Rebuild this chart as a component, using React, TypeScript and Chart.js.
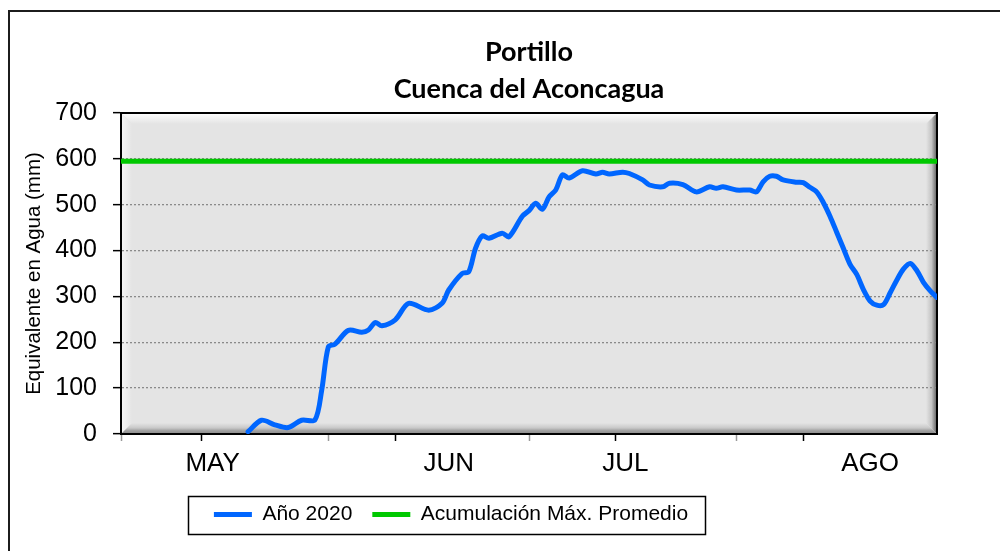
import React, { useEffect, useRef } from 'react';
import { Chart, registerables } from 'chart.js';

Chart.register(...registerables);

// ---- Text ----
const titleLines = ['Portillo', 'Cuenca del Aconcagua'];
const yAxisTitle = 'Equivalente en Agua (mm)';
const seriesLabels = ['Año 2020', 'Acumulación Máx. Promedio'];

// ---- X axis (day index, 0 = 1 May) ----
const dayMin = 0;
const dayMax = 122;
const monthLabels = ['MAY', 'JUN', 'JUL', 'AGO'];
const monthLabelDays = [13.7, 49, 75.4, 112];
const monthStartDays = [0, 31, 61, 92];
const minorTickDays = [12, 41, 74, 102];

// ---- Y axis ----
const yMin = 0;
const yMax = 700;
const yStep = 100;

// ---- Series: Año 2020 (mm) ----
const days2020 = [
  19, 21, 23, 25, 27, 29, 30, 31, 32, 34, 36, 37, 38, 39, 41, 43, 46, 48, 49, 51,
  52, 53, 54, 55, 57, 58, 60, 61, 62, 63, 64, 65, 66, 67, 69, 71, 72, 73, 75, 76,
  78, 79, 81, 82, 84, 86, 88, 89, 90, 92, 94, 95, 96, 97, 98, 99, 101, 102, 103, 104,
  105, 106, 107, 108, 109, 110, 111, 112, 113, 114, 115, 116, 117, 118, 119, 120, 121, 122,
];
const swe2020 = [
  5, 30, 20, 14, 30, 31, 95, 190, 196, 226, 222, 227, 243, 236, 249, 285, 270, 285, 314, 350,
  354, 405, 432, 427, 438, 430, 475, 487, 503, 490, 517, 532, 565, 558, 574, 567, 571, 567, 571, 568,
  554, 543, 539, 547, 544, 528, 539, 536, 539, 532, 532, 528, 550, 562, 562, 554, 549, 548, 538, 528,
  505, 475, 440, 405, 370, 348, 315, 290, 281, 282, 308, 336, 360, 372, 356, 330, 312, 298,
];

// ---- Series: Acumulación Máx. Promedio (mm) ----
const maxAvgDays = [0, 122];
const maxAvgValues = [595, 595];

const pageFrame = {
  id: 'pageFrame',
  beforeDraw(chart: any) {
    const { ctx, width, height, chartArea } = chart;
    const { left, top, right, bottom } = chartArea;
    ctx.save();
    ctx.fillStyle = '#ffffff';
    ctx.fillRect(0, 0, width, height);
    ctx.strokeStyle = '#1c1c1c';
    ctx.lineWidth = 2;
    ctx.beginPath();
    ctx.moveTo(9, height);
    ctx.lineTo(9, 11);
    ctx.lineTo(width, 11);
    ctx.stroke();

    // plot area with bevel
    ctx.fillStyle = '#e4e4e4';
    ctx.fillRect(left, top, right - left, bottom - top);
    const b = 11;
    let g = ctx.createLinearGradient(0, top, 0, top + b);
    g.addColorStop(0, '#ffffff');
    g.addColorStop(1, '#e4e4e4');
    ctx.fillStyle = g;
    ctx.beginPath();
    ctx.moveTo(left, top); ctx.lineTo(right, top); ctx.lineTo(right - b, top + b); ctx.lineTo(left + b, top + b);
    ctx.closePath(); ctx.fill();

    g = ctx.createLinearGradient(left, 0, left + b, 0);
    g.addColorStop(0, '#f6f6f6');
    g.addColorStop(1, '#e4e4e4');
    ctx.fillStyle = g;
    ctx.beginPath();
    ctx.moveTo(left, top); ctx.lineTo(left + b, top + b); ctx.lineTo(left + b, bottom - b); ctx.lineTo(left, bottom);
    ctx.closePath(); ctx.fill();

    g = ctx.createLinearGradient(right - b, 0, right, 0);
    g.addColorStop(0, '#e4e4e4');
    g.addColorStop(0.5, '#c4c4c4');
    g.addColorStop(1, '#5c5c5c');
    ctx.fillStyle = g;
    ctx.beginPath();
    ctx.moveTo(right, top); ctx.lineTo(right, bottom); ctx.lineTo(right - b, bottom - b); ctx.lineTo(right - b, top + b);
    ctx.closePath(); ctx.fill();

    g = ctx.createLinearGradient(0, bottom - b, 0, bottom);
    g.addColorStop(0, '#e4e4e4');
    g.addColorStop(0.45, '#c8c8c8');
    g.addColorStop(0.7, '#a0a0a0');
    g.addColorStop(1, '#8a8a8a');
    ctx.fillStyle = g;
    ctx.beginPath();
    ctx.moveTo(left, bottom); ctx.lineTo(right, bottom); ctx.lineTo(right - b, bottom - b); ctx.lineTo(left + b, bottom - b);
    ctx.closePath(); ctx.fill();

    ctx.strokeStyle = '#000000';
    ctx.lineWidth = 2;
    ctx.beginPath();
    ctx.moveTo(left, top); ctx.lineTo(right, top); ctx.lineTo(right, bottom);
    ctx.stroke();
    ctx.restore();
  },
};

const legendPlacement = {
  id: 'legendPlacement',
  afterLayout(chart: any) {
    const lg = chart.legend;
    if (!lg) return;
    const shift = 451 - (lg.left + lg.right) / 2;
    lg.left += shift;
    lg.right += shift;
  },
  afterDraw(chart: any) {
    const lg = chart.legend;
    if (!lg || !lg.legendHitBoxes || !lg.legendHitBoxes.length) return;
    const hb = lg.legendHitBoxes;
    const first = hb[0];
    const last = hb[hb.length - 1];
    const x1 = first.left - 26;
    const x2 = last.left + last.width + 17;
    const cy = first.top + first.height / 2;
    const { ctx } = chart;
    ctx.save();
    ctx.strokeStyle = '#000000';
    ctx.lineWidth = 1.5;
    ctx.strokeRect(Math.round(x1) + 0.5, Math.round(cy - 19) + 0.5, Math.round(x2 - x1), 38);
    ctx.restore();
  },
};

export default function App() {
  const ref = useRef<HTMLCanvasElement>(null);

  useEffect(() => {
    const canvas = ref.current;
    if (!canvas) return;
    const allXTicks = [...monthStartDays, ...minorTickDays, ...monthLabelDays].sort((a, b) => a - b);

    const chart = new Chart(canvas, {
      type: 'line',
      data: {
        datasets: [
          {
            label: seriesLabels[0],
            data: days2020.map((d, i) => ({ x: d, y: swe2020[i] })),
            borderColor: '#0066ff',
            backgroundColor: '#0066ff',
            borderWidth: 5,
            tension: 0.3,
            pointRadius: 0,
            borderCapStyle: 'round',
            borderJoinStyle: 'round',
          },
          {
            label: seriesLabels[1],
            data: maxAvgDays.map((d, i) => ({ x: d, y: maxAvgValues[i] })),
            borderColor: '#00c800',
            backgroundColor: '#00c800',
            borderWidth: 5,
            pointRadius: 0,
            borderCapStyle: 'round',
          },
        ],
      },
      options: {
        responsive: false,
        animation: false,
        layout: { padding: { left: 0, right: 63, top: 0, bottom: 16 } },
        plugins: {
          title: {
            display: true,
            text: titleLines,
            fullSize: false,
            color: '#000000',
            font: { family: 'Lato, "Open Sans", sans-serif', weight: 'bold', size: 27, lineHeight: 37 / 27 },
            padding: { top: 34, bottom: 5 },
          },
          legend: {
            position: 'bottom',
            fullSize: false,
            labels: {
              usePointStyle: true,
              pointStyle: 'line',
              pointStyleWidth: 38,
              color: '#000000',
              padding: 20,
              font: { family: '"Liberation Sans Narrow", "Liberation Sans", Arial, sans-serif', size: 21 },
            },
          },
          tooltip: { enabled: false },
        },
        scales: {
          x: {
            type: 'linear',
            min: dayMin,
            max: dayMax,
            afterBuildTicks: (scale: any) => {
              scale.ticks = allXTicks.map((v) => ({ value: v }));
            },
            afterFit: (scale: any) => {
              scale.height = 50;
            },
            ticks: {
              autoSkip: false,
              maxRotation: 0,
              minRotation: 0,
              padding: 7,
              color: '#000000',
              font: { family: '"Liberation Sans", Arial, sans-serif', size: 26 },
              callback: (v: any) => {
                const i = monthLabelDays.indexOf(Number(v));
                return i >= 0 ? monthLabels[i] : '';
              },
            },
            grid: {
              drawOnChartArea: false,
              drawTicks: true,
              tickLength: 7,
              tickWidth: 1.5,
              tickColor: (c: any) => {
                const v = c.tick ? c.tick.value : null;
                if (monthStartDays.includes(v)) return '#9a9a9a';
                if (minorTickDays.includes(v)) return '#000000';
                return 'rgba(0,0,0,0)';
              },
            },
            border: { display: true, color: '#000000', width: 2 },
          },
          y: {
            min: yMin,
            max: yMax,
            afterFit: (scale: any) => {
              scale.width = 121;
            },
            ticks: {
              stepSize: yStep,
              color: '#000000',
              padding: 16,
              font: { family: '"Liberation Sans", Arial, sans-serif', size: 25 },
            },
            grid: {
              color: (c: any) =>
                c.tick && (c.tick.value === yMin || c.tick.value === yMax) ? 'rgba(0,0,0,0)' : '#8a8a8a',
              lineWidth: 1.3,
              tickColor: '#000000',
              tickLength: 8,
              tickWidth: 1.5,
            },
            border: { display: true, color: '#000000', width: 2, dash: [2, 2] },
            title: {
              display: true,
              text: yAxisTitle,
              color: '#000000',
              font: { family: '"Liberation Sans", Arial, sans-serif', size: 20.5 },
              padding: { top: 22, bottom: 0 },
            },
          },
        },
      },
      plugins: [pageFrame, legendPlacement],
    } as any);

    return () => chart.destroy();
  }, []);

  return (
    <div style={{ position: 'fixed', left: 0, top: 0, width: 1000, height: 551, background: '#ffffff' }}>
      <canvas ref={ref} width={1000} height={551} style={{ display: 'block', width: 1000, height: 551 }} />
    </div>
  );
}
